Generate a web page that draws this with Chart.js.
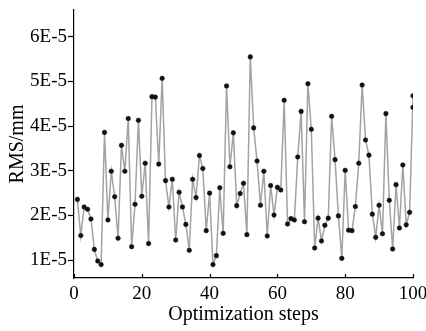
<!DOCTYPE html>
<html>
<head>
<meta charset="utf-8">
<script src="https://cdn.jsdelivr.net/npm/chart.js@4"></script>
<style>
  html,body{margin:0;padding:0;background:#fff;}
  #wrap{width:426px;height:331px;}
</style>
</head>
<body>
<div id="wrap"><canvas id="c" width="426" height="331"></canvas></div>
<script>
// optimization step index (last step has two recorded values)
const steps = [];
for (let i = 1; i <= 100; i++) steps.push(i);
steps.push(100);

// RMS values, in units of 1E-5 mm
const rmsValues = [
  2.36, 1.55, 2.19, 2.14, 1.92, 1.24, 0.98, 0.90, 3.86, 1.90,
  2.99, 2.42, 1.49, 3.57, 2.99, 4.17, 1.30, 2.25, 4.13, 2.43,
  3.17, 1.37, 4.66, 4.65, 3.15, 5.07, 2.78, 2.19, 2.81, 1.45,
  2.52, 2.19, 1.80, 1.22, 2.81, 2.40, 3.34, 3.05, 1.66, 2.50,
  0.90, 1.10, 2.62, 1.60, 4.90, 3.09, 3.85, 2.22, 2.49, 2.72,
  1.57, 5.55, 3.96, 3.22, 2.23, 2.99, 1.54, 2.67, 2.01, 2.63,
  2.57, 4.58, 1.81, 1.93, 1.90, 3.31, 4.33, 1.86, 4.95, 3.93,
  1.27, 1.94, 1.43, 1.78, 1.94, 4.22, 3.25, 1.99, 1.04, 3.01,
  1.67, 1.66, 2.20, 3.17, 4.92, 3.69, 3.35, 2.03, 1.51, 2.23,
  1.59, 4.28, 2.34, 1.25, 2.69, 1.72, 3.13, 1.79, 2.07, 4.68,
  4.42
];

const xTicks = [0, 20, 40, 60, 80, 100];
const yTicks = [1, 2, 3, 4, 5, 6];
const yTickLabels = ['1E-5', '2E-5', '3E-5', '4E-5', '5E-5', '6E-5'];

const serif = "'Liberation Serif', 'DejaVu Serif', serif";

// x ticks point up into the plot
const innerTicks = {
  id: 'innerTicks',
  afterDraw(chart) {
    const ctx = chart.ctx;
    const xs = chart.scales.x;
    const bottom = chart.chartArea.bottom;
    ctx.save();
    ctx.strokeStyle = '#000';
    ctx.lineWidth = 1.2;
    xTicks.forEach(v => {
      const px = Math.round(xs.getPixelForValue(v)) + 0.5;
      ctx.beginPath();
      ctx.moveTo(px, bottom);
      ctx.lineTo(px, bottom - 4);
      ctx.stroke();
    });
    ctx.restore();
  }
};

new Chart(document.getElementById('c'), {
  type: 'line',
  data: {
    datasets: [{
      data: steps.map((s, i) => ({x: s, y: rmsValues[i]})),
      borderColor: '#a3a3a3',
      borderWidth: 1.5,
      pointRadius: 2.3,
      pointBackgroundColor: '#111',
      pointBorderColor: '#111',
      pointBorderWidth: 0.5,
      tension: 0,
      fill: false
    }]
  },
  options: {
    responsive: false,
    animation: false,
    layout: {padding: {top: 10, right: 13, left: 0, bottom: 0}},
    plugins: {legend: {display: false}, tooltip: {enabled: false}},
    scales: {
      x: {
        type: 'linear',
        min: 0, max: 100,
        afterBuildTicks: s => { s.ticks = xTicks.map(v => ({value: v})); },
        afterFit: s => { s.height = 53; s.paddingLeft = 0; s.paddingRight = 0; },
        border: {color: '#000', width: 1.2},
        grid: {display: true, drawOnChartArea: false, drawTicks: false},
        ticks: {color: '#000', padding: 5, maxRotation: 0, font: {family: serif, size: 19}},
        title: {display: true, text: 'Optimization steps', color: '#000', padding: {top: 0, bottom: 4}, font: {family: serif, size: 20}}
      },
      y: {
        min: 0.6, max: 6.6,
        afterBuildTicks: s => { s.ticks = yTicks.map(v => ({value: v})); },
        afterFit: s => { s.width = 74; s.paddingTop = 0; s.paddingBottom = 0; },
        border: {color: '#000', width: 1.2},
        grid: {display: true, drawOnChartArea: false, tickLength: 6, color: '#000', tickWidth: 1.2},
        ticks: {
          color: '#000', padding: 1, font: {family: serif, size: 19},
          callback: v => yTickLabels[yTicks.indexOf(v)]
        },
        title: {display: true, text: 'RMS/mm', color: '#000', padding: {top: 6, bottom: 0}, font: {family: serif, size: 20}}
      }
    }
  },
  plugins: [innerTicks]
});
</script>
</body>
</html>
